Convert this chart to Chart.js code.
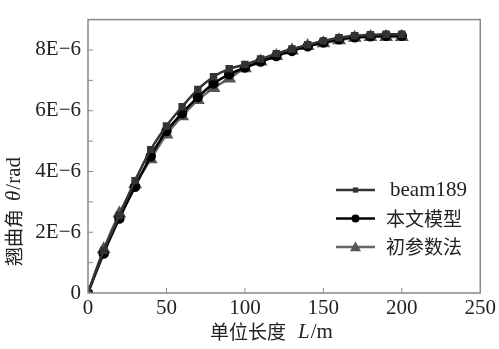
<!DOCTYPE html>
<html>
<head>
<meta charset="utf-8">
<script src="https://cdn.jsdelivr.net/npm/chart.js@4/dist/chart.umd.min.js"></script>
<style>
  html, body { margin: 0; padding: 0; background: #fff; }
  #wrap { width: 499px; height: 349px; }
</style>
</head>
<body>
<div id="wrap"><canvas id="c" width="499" height="349"></canvas></div>
<script>
// data
const lengths = [0, 10, 20, 30, 40, 50, 60, 70, 80, 90, 100, 110, 120, 130, 140, 150, 160, 170, 180, 190, 200];
const beam189 = [0, 1.40, 2.55, 3.70, 4.72, 5.50, 6.13, 6.70, 7.12, 7.38, 7.52, 7.70, 7.88, 8.03, 8.17, 8.30, 8.40, 8.47, 8.50, 8.52, 8.52];
const thisModel = [0, 1.30, 2.45, 3.50, 4.50, 5.33, 5.92, 6.45, 6.90, 7.20, 7.42, 7.62, 7.80, 7.97, 8.12, 8.25, 8.35, 8.42, 8.45, 8.47, 8.47];
const initParam = [0, 1.44, 2.62, 3.58, 4.40, 5.22, 5.82, 6.35, 6.75, 7.06, 7.40, 7.62, 7.80, 7.98, 8.13, 8.22, 8.32, 8.40, 8.43, 8.43, 8.43];
const seriesNames = ["beam189", "本文模型", "初参数法"];
const xTicks = [0, 50, 100, 150, 200, 250];
const yTickLabels = { 0: "0", 2: "2E\u22126", 4: "4E\u22126", 6: "6E\u22126", 8: "8E\u22126" };

const SERIF = "'Liberation Serif', 'DejaVu Serif', serif";
const CJK = "'Noto Sans CJK SC', sans-serif";

function pts(arr) {
  return lengths.map((x, i) => ({ x: x, y: arr[i] * 1e-6 }));
}

// inner ticks, frame, legend, axis titles
const decor = {
  id: "decor",
  afterDraw(chart) {
    const ctx = chart.ctx;
    const a = chart.chartArea;
    const xs = chart.scales.x, ys = chart.scales.y;
    ctx.save();
    ctx.strokeStyle = "#888";
    ctx.lineWidth = 1.5;
    ctx.strokeRect(a.left, a.top, a.right - a.left, a.bottom - a.top);
    ctx.lineWidth = 1;
    ctx.beginPath();
    for (let v = 1; v <= 8; v++) {
      const y = ys.getPixelForValue(v * 1e-6);
      ctx.moveTo(a.left, y); ctx.lineTo(a.left + 5, y);
    }
    xTicks.slice(1, -1).forEach(v => {
      const x = xs.getPixelForValue(v);
      ctx.moveTo(x, a.bottom); ctx.lineTo(x, a.bottom - 5);
    });
    ctx.stroke();

    // legend
    chart.data.datasets.forEach((ds, i) => {
      const y = 190 + i * 28.5;
      ctx.strokeStyle = ds.borderColor;
      ctx.lineWidth = 2.5;
      ctx.beginPath();
      ctx.moveTo(336, y); ctx.lineTo(375, y);
      ctx.stroke();
      ctx.fillStyle = ds.pointBackgroundColor;
      const r = ds.pointRadius;
      ctx.beginPath();
      if (ds.pointStyle === "rect") {
        ctx.rect(355.5 - r * 0.75, y - r * 0.75, r * 1.5, r * 1.5);
      } else if (ds.pointStyle === "triangle") {
        ctx.moveTo(355.5, y - r); ctx.lineTo(355.5 + r, y + r * 0.75); ctx.lineTo(355.5 - r, y + r * 0.75);
        ctx.closePath();
      } else {
        ctx.arc(355.5, y, r, 0, Math.PI * 2);
      }
      ctx.fill();
      ctx.fillStyle = "#222";
      ctx.textBaseline = "middle";
      ctx.textAlign = "left";
      ctx.font = i === 0 ? "21px " + SERIF : "19px " + CJK;
      ctx.fillText(ds.label, i === 0 ? 390 : 386, y);
    });

    // x title
    ctx.fillStyle = "#222";
    ctx.textBaseline = "middle";
    ctx.textAlign = "left";
    let x = 210;
    const ty = 332;
    ctx.font = "19px " + CJK; ctx.fillText("单位长度", x, ty); x += ctx.measureText("单位长度").width + 12;
    ctx.font = "italic 21px " + SERIF; ctx.fillText("L", x, ty); x += ctx.measureText("L").width + 1;
    ctx.font = "21px " + SERIF; ctx.fillText("/m", x, ty);

    // y title (rotated)
    ctx.translate(14, 266);
    ctx.rotate(-Math.PI / 2);
    x = 0;
    ctx.font = "19px " + CJK; ctx.fillText("翘曲角", x, 0); x += ctx.measureText("翘曲角").width + 8;
    ctx.font = "italic 21px " + SERIF; ctx.fillText("\u03b8", x, 0); x += ctx.measureText("\u03b8").width + 1;
    ctx.font = "21px " + SERIF; ctx.fillText("/rad", x, 0);
    ctx.restore();
  }
};

new Chart(document.getElementById("c"), {
  type: "line",
  data: {
    datasets: [
      { label: seriesNames[0], data: pts(beam189), borderColor: "#333", pointBackgroundColor: "#333", pointBorderColor: "#333",
        pointStyle: "rect", pointRadius: 3.5, borderWidth: 2.5, tension: 0.3 },
      { label: seriesNames[1], data: pts(thisModel), borderColor: "#000", pointBackgroundColor: "#000", pointBorderColor: "#000",
        pointStyle: "circle", pointRadius: 4, borderWidth: 2.5, tension: 0.3 },
      { label: seriesNames[2], data: pts(initParam), borderColor: "#666", pointBackgroundColor: "#555", pointBorderColor: "#555",
        pointStyle: "triangle", pointRadius: 5.5, borderWidth: 2.5, tension: 0.3 }
    ]
  },
  options: {
    responsive: false,
    animation: false,
    layout: { padding: { top: 6, right: 12, left: 0, bottom: 0 } },
    plugins: { legend: { display: false }, tooltip: { enabled: false } },
    scales: {
      x: {
        type: "linear", min: 0, max: 250,
        afterFit(s) { s.height = 56; },
        afterBuildTicks(s) { s.ticks = xTicks.map(v => ({ value: v })); },
        grid: { display: false, drawTicks: false },
        border: { display: false },
        ticks: { color: "#222", font: { family: SERIF, size: 21 }, padding: 3, maxRotation: 0 }
      },
      y: {
        type: "linear", min: 0, max: 9e-6,
        afterFit(s) { s.width = 88; },
        ticks: {
          stepSize: 1e-6,
          color: "#222", font: { family: SERIF, size: 21 }, padding: 7,
          callback(v) {
            const k = Math.round(v * 1e6);
            return yTickLabels[k] !== undefined ? yTickLabels[k] : "";
          }
        },
        grid: { display: false, drawTicks: false },
        border: { display: false }
      }
    }
  },
  plugins: [decor]
});
</script>
</body>
</html>
